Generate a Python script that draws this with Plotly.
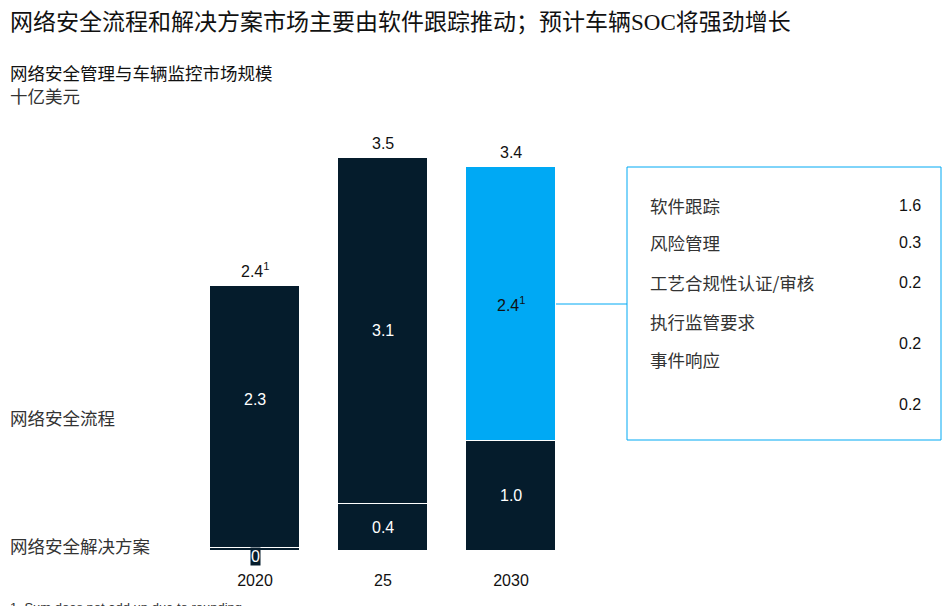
import plotly.graph_objects as go

# ---- data ----
categories = ["2020", "25", "2030"]
solutions = [0.03, 0.42, 0.98]          # 网络安全解决方案
processes = [2.33, 3.08, 2.44]          # 网络安全流程
solution_labels = ["0", "0.4", "1.0"]
process_labels = ["2.3", "3.1", "2.4<sup>1</sup>"]
total_labels = ["2.4<sup>1</sup>", "3.5", "3.4"]
breakdown_names = ["软件跟踪", "风险管理", "工艺合规性认证/审核", "执行监管要求", "事件响应"]
breakdown_values = ["1.6", "0.3", "0.2", "0.2", "0.2"]

NAVY = "#051C2C"
BLUE = "#00A9F4"
W, H = 952, 606
OFF = 8  # page body margin
TOP, BOTTOM = 100 - OFF, 551 - OFF   # figure pixel coords of plot area
SANS = "Liberation Sans, Arial, Noto Sans CJK SC"
CJK = "Noto Sans CJK SC"


def px(x):
    """reference-picture x pixel -> paper"""
    return (x - OFF) / W


def py(y):
    """reference-picture y pixel -> paper"""
    return (BOTTOM - (y - OFF)) / (BOTTOM - TOP)


xs = [0, 1, 2]
proc_colors = [NAVY, NAVY, BLUE]
CX0 = 255 - OFF  # figure x of first bar center
LEFT = 8

fig = go.Figure()
fig.add_trace(go.Bar(x=xs, y=solutions, width=0.703, marker=dict(color=NAVY, line=dict(color="white", width=1)),
                     hoverinfo="skip", showlegend=False))
fig.add_trace(go.Bar(x=xs, y=processes, width=0.703, marker=dict(color=proc_colors, line=dict(color="white", width=1)),
                     hoverinfo="skip", showlegend=False))

ann = []
for i, lab in enumerate(total_labels):
    ann.append(dict(x=xs[i], y=solutions[i] + processes[i], text=lab, showarrow=False, yanchor="bottom", yshift=4,
                    font=dict(family=SANS, size=16, color="#111111")))
for i, lab in enumerate(process_labels):
    col = "#111111" if i == 2 else "white"
    ann.append(dict(x=xs[i], y=solutions[i] + processes[i] / 2 + (0.15 if i == 0 else 0), text=lab, showarrow=False,
                    font=dict(family=SANS, size=16, color=col)))
for i, lab in enumerate(solution_labels):
    if i == 0:
        ann.append(dict(x=xs[i], y=0, text=lab, showarrow=False, yanchor="middle", yshift=-5,
                        bgcolor=NAVY, borderpad=0, font=dict(family=SANS, size=16, color="white")))
    else:
        ann.append(dict(x=xs[i], y=solutions[i] / 2, text=lab, showarrow=False,
                        font=dict(family=SANS, size=16, color="white")))

ann.append(dict(xref="paper", yref="paper", x=px(LEFT), y=py(22), xanchor="left", yanchor="middle", showarrow=False,
                text="网络安全流程和解决方案市场主要由软件跟踪推动；预计车辆SOC将强劲增长",
                font=dict(family="Liberation Serif, " + CJK, size=23, color="#111111")))
ann.append(dict(xref="paper", yref="paper", x=px(LEFT), y=py(72), xanchor="left", yanchor="middle", showarrow=False,
                text="网络安全管理与车辆监控市场规模", font=dict(family=CJK, size=17.5, color="#111111")))
ann.append(dict(xref="paper", yref="paper", x=px(LEFT), y=py(95), xanchor="left", yanchor="middle", showarrow=False,
                text="十亿美元", font=dict(family=CJK, size=17.5, color="#333333")))
ann.append(dict(xref="paper", yref="paper", x=px(LEFT), y=py(417), xanchor="left", yanchor="middle", showarrow=False,
                text="网络安全流程", font=dict(family=CJK, size=17.5, color="#333333")))
ann.append(dict(xref="paper", yref="paper", x=px(LEFT), y=py(545), xanchor="left", yanchor="middle", showarrow=False,
                text="网络安全解决方案", font=dict(family=CJK, size=17.5, color="#333333")))

row_y = [205, 243, 282, 321, 360]
val_y = [205, 243, 282, 343, 404]
for name, y in zip(breakdown_names, row_y):
    ann.append(dict(xref="paper", yref="paper", x=px(648), y=py(y), xanchor="left", yanchor="middle", showarrow=False,
                    text=name, font=dict(family=CJK, size=17.5, color="#333333")))
for v, y in zip(breakdown_values, val_y):
    ann.append(dict(xref="paper", yref="paper", x=px(923), y=py(y), xanchor="right", yanchor="middle", showarrow=False,
                    text=v, font=dict(family=SANS, size=16, color="#111111")))

ann.append(dict(xref="paper", yref="paper", x=px(LEFT), y=py(598), xanchor="left", yanchor="top", showarrow=False,
                text="1. Sum does not add up due to rounding.", font=dict(family=SANS, size=13, color="#333333")))

shapes = [
    dict(type="rect", xref="paper", yref="paper", x0=px(627), x1=px(941), y0=py(440), y1=py(167),
         line=dict(color=BLUE, width=1), fillcolor="rgba(0,0,0,0)"),
    dict(type="line", xref="paper", yref="paper", x0=px(556), x1=px(627), y0=py(304), y1=py(304),
         line=dict(color=BLUE, width=1)),
]

fig.update_layout(
    width=W, height=H, barmode="stack", bargap=0,
    margin=dict(l=0, r=0, t=TOP, b=H - BOTTOM),
    paper_bgcolor="white", plot_bgcolor="white",
    xaxis=dict(range=[-CX0 / 128, (W - CX0) / 128], tickvals=xs, ticktext=categories, showgrid=False,
               zeroline=False, showline=False, ticks="outside", ticklen=15, tickcolor="white",
               tickfont=dict(family=SANS, size=16, color="#111111"), fixedrange=True),
    yaxis=dict(range=[0, (BOTTOM - TOP) / 112.3], visible=False, fixedrange=True),
    annotations=ann, shapes=shapes,
)

fig.write_html("out.html")
